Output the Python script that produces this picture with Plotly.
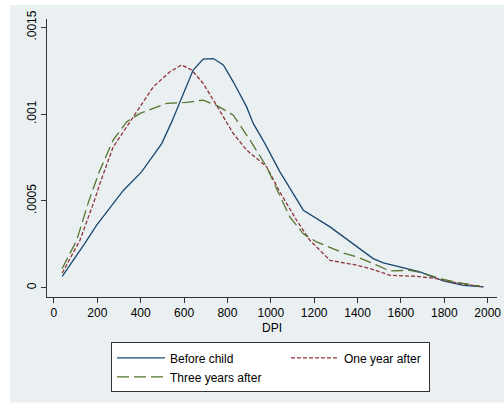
import plotly.graph_objects as go

# Data
before_x = [38, 84, 140, 197, 281, 320, 404, 497, 543, 581, 642, 688, 735, 781, 827, 889, 919, 973, 1042, 1104, 1150, 1273, 1396, 1472, 1519, 1596, 1688, 1795, 1888, 1980]
before_y = [0.000065, 0.000148, 0.00025, 0.00036, 0.0005, 0.00056, 0.000667, 0.00083, 0.000955, 0.00107, 0.001254, 0.001317, 0.00132, 0.001283, 0.001186, 0.00104, 0.000946, 0.00083, 0.000667, 0.00054, 0.000446, 0.00035, 0.000234, 0.000167, 0.000142, 0.000119, 0.00009, 0.000038, 0.000013, 0.000004]

one_x = [38, 120, 186, 212, 273, 366, 458, 535, 589, 635, 688, 750, 827, 889, 981, 1042, 1119, 1180, 1273, 1396, 1472, 1549, 1672, 1765, 1857, 1980]
one_y = [0.000084, 0.000273, 0.0005, 0.0006, 0.00081, 0.000984, 0.001157, 0.001244, 0.001283, 0.001254, 0.001177, 0.00105, 0.000888, 0.000792, 0.000696, 0.00055, 0.000388, 0.000273, 0.000157, 0.000129, 0.000104, 0.000071, 0.000065, 0.000052, 0.000027, 0.000004]

three_x = [38, 105, 161, 212, 273, 335, 397, 520, 612, 688, 750, 827, 904, 981, 1034, 1088, 1150, 1211, 1334, 1396, 1472, 1549, 1642, 1703, 1780, 1872, 1964]
three_y = [0.00011, 0.000273, 0.0005, 0.000677, 0.00085, 0.000955, 0.001004, 0.001062, 0.001067, 0.00108, 0.00105, 0.000994, 0.00085, 0.000696, 0.00055, 0.000407, 0.00031, 0.000263, 0.0002, 0.000177, 0.000138, 0.000096, 0.0001, 0.000084, 0.000052, 0.000027, 0.000008]

x_ticks = [0, 200, 400, 600, 800, 1000, 1200, 1400, 1600, 1800, 2000]
y_ticks = [0, 0.0005, 0.001, 0.0015]
y_ticktext = ["0", ".0005", ".001", ".0015"]

BG = "#eaf0f2"
FONT = "Liberation Sans, Arial, sans-serif"

fig = go.Figure()
fig.add_trace(go.Scatter(x=before_x, y=before_y, mode="lines", name="Before child",
                         legendwidth=111,
                         line=dict(color="#1a476f", width=1.3)))
fig.add_trace(go.Scatter(x=one_x, y=one_y, mode="lines", name="One year after",
                         legendwidth=80,
                         line=dict(color="#90353b", width=1.3, dash="4px,2px")))
fig.add_trace(go.Scatter(x=three_x, y=three_y, mode="lines", name="Three years after",
                         legendwidth=111,
                         line=dict(color="#55752f", width=1.3, dash="12px,5px")))

L, R, T, B = 47, 497, 19, 296.7
W, H = 504, 405
pw, ph = R - L, B - T

def px_x(p):
    return (p - L) / pw

def px_y(p):
    return (B - p) / ph

fig.add_shape(type="rect", xref="paper", yref="paper", layer="below",
              x0=px_x(10), x1=px_x(504), y0=px_y(402), y1=px_y(5),
              fillcolor=BG, line=dict(width=0))

fig.update_layout(
    width=W, height=H,
    margin=dict(l=L, r=W - R, t=T, b=H - B, autoexpand=False),
    paper_bgcolor="white",
    plot_bgcolor="white",
    font=dict(family=FONT, size=12, color="black"),
    showlegend=True,
    legend=dict(
        orientation="h",
        x=px_x(111), y=px_y(342), xanchor="left", yanchor="top",
        bgcolor="white", bordercolor="#333333", borderwidth=1,
        entrywidthmode="pixels",
        itemwidth=48,
        font=dict(family=FONT, size=12, color="black"),
        traceorder="normal",
    ),
    xaxis=dict(
        range=[-32, 2043], tickvals=x_ticks, ticks="outside", ticklen=5,
        tickcolor="#333333", showline=True, linecolor="#333333", linewidth=1,
        showgrid=False, zeroline=False, mirror=False,
        title=dict(text="DPI", standoff=4, font=dict(size=12)),
        tickfont=dict(size=12),
    ),
    yaxis=dict(
        range=[-0.0000542, 0.001548], tickvals=y_ticks, ticktext=y_ticktext,
        tickangle=-90, ticks="outside", ticklen=5, tickcolor="#333333",
        showline=True, linecolor="#333333", linewidth=1,
        showgrid=True, gridcolor="#e6eff1", gridwidth=1, zeroline=False,
        tickfont=dict(size=12),
    ),
)

fig.write_html("out.html")
